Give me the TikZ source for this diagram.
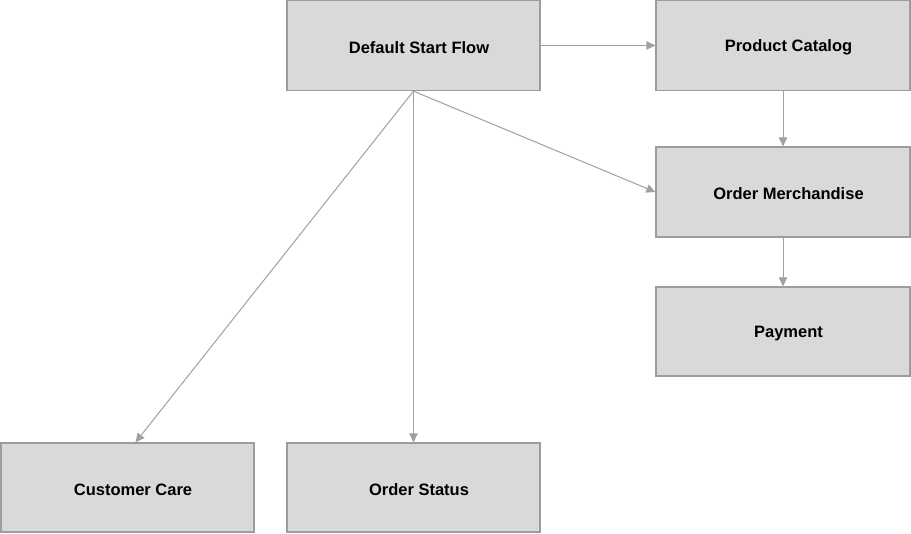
\documentclass[tikz,border=0pt]{standalone}
\usepackage{fontspec}
\setmainfont{Liberation Sans}
\usetikzlibrary{arrows.meta}
\definecolor{boxfill}{HTML}{D9D9D9}
\definecolor{boxline}{HTML}{9C9C9C}
\definecolor{arrline}{HTML}{A0A0A0}
\newcommand{\boxtext}[1]{\hspace*{11pt}\raisebox{-2pt}[\height][\depth]{#1}}
\tikzset{
  box/.style={draw=boxline, line width=1.3pt, fill=boxfill, inner sep=0pt,
    font=\fontsize{16.5}{19}\selectfont\bfseries, text=black},
  arr/.style={draw=arrline, line width=1pt, -{Triangle[length=9pt,width=8.5pt]}}
}
\begin{document}
\begin{tikzpicture}[x=1pt,y=-1pt]
\useasboundingbox (0,0) rectangle (911,534);
\node[box, minimum width=253pt, minimum height=90pt] (dsf) at (413.5,45.5) {\boxtext{Default Start Flow}};
\node[box, minimum width=254pt, minimum height=90pt] (pc) at (783,45.5) {\boxtext{Product Catalog}};
\node[box, minimum width=254pt, minimum height=90pt] (om) at (783,192) {\boxtext{Order Merchandise}};
\node[box, minimum width=254pt, minimum height=89pt] (pay) at (783,331.5) {\boxtext{Payment}};
\node[box, minimum width=253pt, minimum height=89pt] (cc) at (127.5,487.5) {\boxtext{Customer Care}};
\node[box, minimum width=253pt, minimum height=89pt] (os) at (413.5,487.5) {\boxtext{Order Status}};
\coordinate (ccin) at ([xshift=8pt]cc.north);
\draw[arr] (dsf.east) -- (pc.west);
\draw[arr] (pc.south) -- (om.north);
\draw[arr] (om.south) -- (pay.north);
\draw[arr] (dsf.south) -- (os.north);
\draw[arr] (dsf.south) -- (om.west);
\draw[arr] (dsf.south) -- (ccin);
\end{tikzpicture}
\end{document}
